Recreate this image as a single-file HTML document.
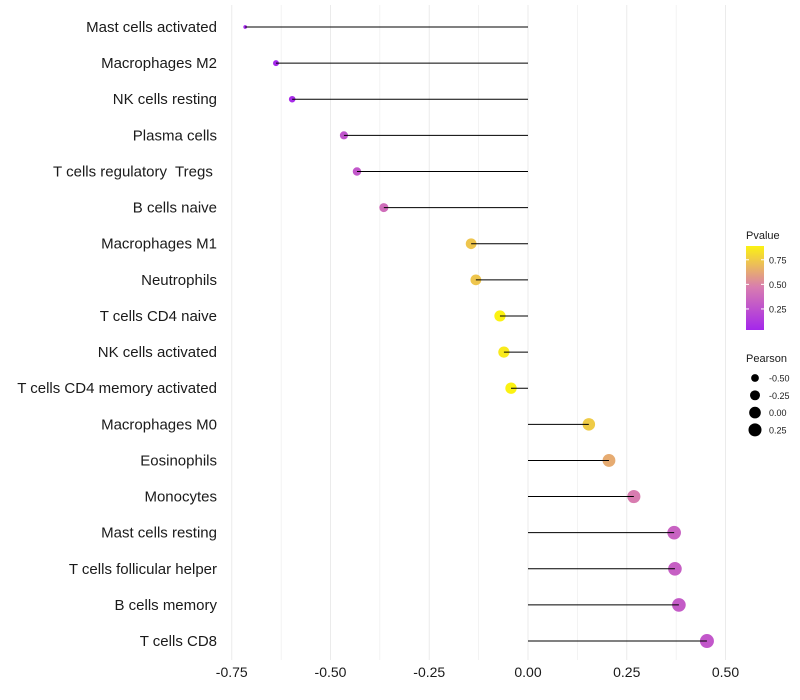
<!DOCTYPE html>
<html><head><meta charset="utf-8"><style>
body{margin:0;background:#fff;}
svg{display:block;font-family:"Liberation Sans",sans-serif;}
</style></head><body>
<svg id="chart" width="800" height="700"></svg>
<script>
const categories=["Mast cells activated","Macrophages M2","NK cells resting","Plasma cells","T cells regulatory  Tregs ","B cells naive","Macrophages M1","Neutrophils","T cells CD4 naive","NK cells activated","T cells CD4 memory activated","Macrophages M0","Eosinophils","Monocytes","Mast cells resting","T cells follicular helper","B cells memory","T cells CD8"];
const pearson=[-0.716,-0.638,-0.597,-0.466,-0.433,-0.365,-0.144,-0.132,-0.071,-0.061,-0.043,0.154,0.205,0.268,0.370,0.372,0.382,0.453];
const pvalues=[0.03,0.04,0.06,0.28,0.3,0.42,0.78,0.78,0.95,0.92,0.95,0.8,0.68,0.5,0.36,0.34,0.32,0.3];
const xTicks=[-0.75,-0.5,-0.25,0,0.25,0.5];
const xTickLabels=["-0.75","-0.50","-0.25","0.00","0.25","0.50"];
const pTicks=[0.25,0.5,0.75];
const sizeTicks=[-0.5,-0.25,0,0.25];
const sizeLabels=["-0.50","-0.25","0.00","0.25"];

const NS="http://www.w3.org/2000/svg";
const svg=document.getElementById('chart');
function mk(t,a,p){const e=document.createElementNS(NS,t);for(const k in a)e.setAttribute(k,a[k]);(p||svg).appendChild(e);return e;}
const X=v=>528+v*395;
const Y=i=>27+i*36.12;
const R=v=>1.5+5.5*Math.sqrt(Math.max(0,(v+0.72)/1.17));
function lerp(a,b,t){return a.map((x,i)=>Math.round(x+(b[i]-x)*t));}
function col(p){const s=[[0,[160,32,240]],[0.5,[216,124,176]],[1,[255,255,0]]];
 for(let i=0;i<2;i++){if(p<=s[i+1][0]){const c=lerp(s[i][1],s[i+1][1],(p-s[i][0])/(s[i+1][0]-s[i][0]));return`rgb(${c})`;}}return'rgb(255,255,0)';}

// grid
for(let v=-0.75;v<=0.5001;v+=0.125){
 const g=mk('line',{x1:X(v),x2:X(v),y1:5,y2:660,stroke:'#ebebeb','stroke-width':Math.abs((v*4)%1)<1e-6?1:0.6});
 }
categories.forEach((c,i)=>{
 const t=mk('text',{x:217,y:Y(i)+5,'text-anchor':'end','font-size':15,fill:'#1a1a1a','xml:space':'preserve'});t.style.whiteSpace='pre';t.textContent=c;
 
});
categories.forEach((c,i)=>{
 const p=mk('circle',{cx:X(pearson[i]),cy:Y(i),r:R(pearson[i]),fill:col(pvalues[i])});
 
 const l=mk('line',{x1:X(0),x2:X(pearson[i]),y1:Y(i),y2:Y(i),stroke:'#000','stroke-width':1});
 
});
xTicks.forEach((v,i)=>{const t=mk('text',{x:X(v),y:677,'text-anchor':'middle','font-size':14,fill:'#1a1a1a'});t.textContent=xTickLabels[i];
 });

// color legend
let t=mk('text',{x:746,y:239,'font-size':11,fill:'#1a1a1a'});t.textContent='Pvalue';

const defs=mk('defs',{});const gr=mk('linearGradient',{id:'pg',x1:0,y1:1,x2:0,y2:0},defs);
[0.036,0.25,0.5,0.75,0.95].forEach((p,i)=>mk('stop',{offset:(p-0.036)/(0.95-0.036),'stop-color':col(p)},gr));
const cb=mk('rect',{x:746,y:246,width:18,height:84,fill:'url(#pg)'});

const PY=p=>330-(p-0.036)/(0.89-0.036)*84;
pTicks.forEach(p=>{mk('line',{x1:746,x2:749,y1:PY(p),y2:PY(p),stroke:'#fff'});mk('line',{x1:761,x2:764,y1:PY(p),y2:PY(p),stroke:'#fff'});
 const tt=mk('text',{x:769,y:PY(p)+3.5,'font-size':9,fill:'#1a1a1a'});tt.textContent=p.toFixed(2);
 });
// size legend
t=mk('text',{x:746,y:362,'font-size':11,fill:'#1a1a1a'});t.textContent='Pearson';

sizeTicks.forEach((v,i)=>{const y=378+i*17.3;
 const c=mk('circle',{cx:755,cy:y,r:R(v),fill:'#000'});
 const tt=mk('text',{x:769,y:y+3.5,'font-size':9,fill:'#1a1a1a'});tt.textContent=sizeLabels[i];
 });
</script>
</body></html>
